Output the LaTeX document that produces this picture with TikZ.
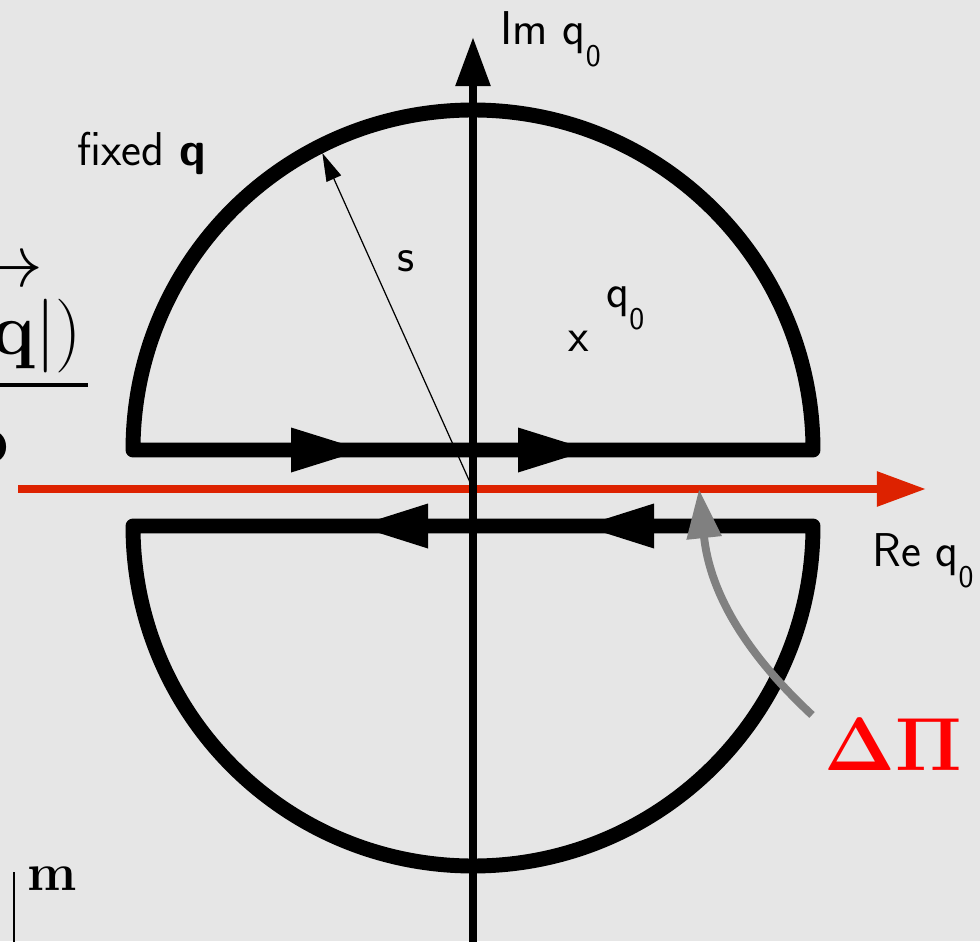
\RequirePackage{fix-cm}
\documentclass[tikz,border=0pt]{standalone}
\usepackage{amsmath, amssymb, bm}
\usepackage{tikz}
\usetikzlibrary{arrows.meta, calc}
\definecolor{slidegray}{RGB}{230, 230, 230}
\definecolor{axisred}{RGB}{221, 34, 0}
\definecolor{pired}{RGB}{255, 0, 0}
\definecolor{hintgray}{RGB}{128, 128, 128}
\tikzset{
    contour/.style={line width=8.5pt, line join=round, black},
    axis/.style={line width=4.5pt, -{Triangle[length=28pt, width=19pt]}},
    radiusline/.style={line width=0.7pt, -{Triangle[length=16pt, width=9pt]}},
    textlabel/.style={font=\sffamily\fontsize{27}{32}\selectfont, inner sep=0pt},
    formula/.style={font=\fontsize{42}{50}\selectfont, inner sep=0pt}
}
\newcommand{\qnull}{q\raisebox{-12pt}{\fontsize{18}{18}\selectfont 0}}

\begin{document}
\begin{tikzpicture}[x=0.02cm, y=0.02cm]
    % slide background, cropped like the reference
    \fill[slidegray] (0,0) rectangle (980,941);
    \useasboundingbox (0,0) rectangle (980,941);
    \clip (0,0) rectangle (980,941);

    % centres of the two half discs and the origin
    \coordinate (cu) at (473,491);
    \coordinate (cl) at (473,415);
    \coordinate (origin) at (473,452);

    % real axis (red)
    \draw[axis, axisred] (18,452) coordinate (rebase) -- (926,452) coordinate (retip);

    % upper contour, closed over the upper half plane
    \draw[contour] ($(cu)+(-340,0)$) coordinate (ul) -- ($(cu)+(340,0)$) coordinate (ur)
        arc[start angle=0, end angle=180, radius=340] -- cycle;
    % lower contour, closed over the lower half plane
    \draw[contour] ($(cl)+(340,0)$) coordinate (lr) -- ($(cl)+(-340,0)$) coordinate (ll)
        arc[start angle=180, end angle=360, radius=340] -- cycle;

    % direction marks on the straight parts
    \foreach \xb in {291,518}
        \fill (\xb,468.5) -- (\xb+72,491) -- (\xb,513.5) -- cycle;
    \foreach \xb in {428,654}
        \fill (\xb,392.5) -- (\xb-71,415) -- (\xb,437.5) -- cycle;

    % imaginary axis
    \draw[axis] (473,-10) coordinate (imbase) -- (473,904) coordinate (imtip);

    % radius of the half circle
    \draw[radiusline] (origin) -- ($(cu)+(116.9:333)$) coordinate (stip);

    % labels
    \node[textlabel, anchor=base west] (imlab) at (500,896) {Im \qnull};
    \node[textlabel, anchor=base west] (relab) at (872,375) {Re \qnull};
    \node[textlabel, anchor=base west] (fixlab) at (77,775) {fixed \textbf{q}};
    \node[textlabel, anchor=base] (slab) at (406,669) {s};
    \node[textlabel, anchor=base] (pole) at (579,589) {x};
    \node[textlabel, anchor=base west] (polelab) at (606,633) {\qnull};
    \node[font=\fontsize{43}{50}\selectfont, text=pired, anchor=base west, inner sep=0pt]
        (dpi) at (824,171) {$\mathbf{\Delta\Pi}$};

    % gray pointer from the discontinuity label to the cut
    \coordinate (dpfoot) at (812,226);
    \coordinate (cut) at (699,452);
    \draw[hintgray, line width=4.5pt, -{Triangle[length=28pt, width=19pt]}]
        (dpfoot) to[out=137, in=-84] (cut);

    % pieces of the neighbouring formula, cut by the crop
    \node[formula, anchor=east] (vecarrow) at (44,668) {$\rightarrow$};
    \node[formula, anchor=base east] (numer) at (82,586) {$(q_0,|\mathbf{q}|)$};
    \draw[line width=2.3pt] (-20,556) -- (88,556);
    \node[formula, anchor=base east] (denom) at (9,478) {$\mathbf{o}$};
    \draw[line width=1.7pt] (14,-10) -- (14,69);
    \node[font=\fontsize{30}{36}\selectfont, inner sep=0pt, anchor=base west]
        (msup) at (27,51) {$\mathbf{m}$};
\end{tikzpicture}
\end{document}
